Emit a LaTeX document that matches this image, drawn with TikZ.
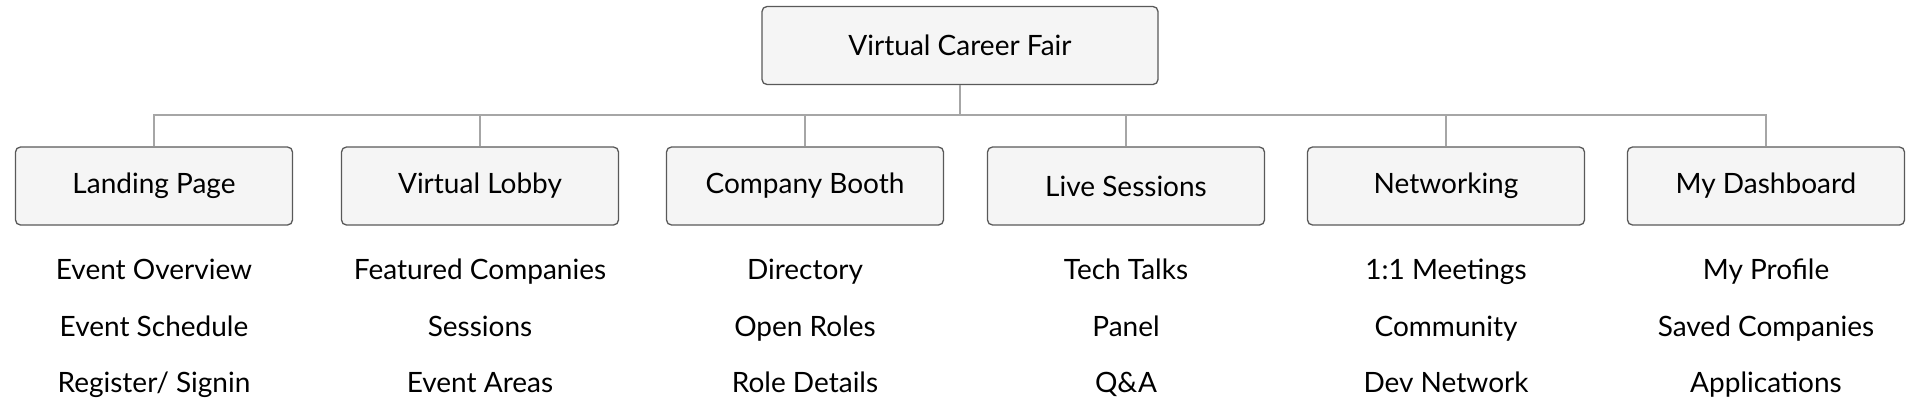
\documentclass[tikz,border=0pt]{standalone}
\usepackage{fontspec}
\setmainfont{Lato}
\begin{document}
\begin{tikzpicture}[x=1pt,y=-1pt,
  box/.style={draw=black!65,line width=1.3pt,fill=black!4,rounded corners=5pt,minimum width=277pt,minimum height=78pt,inner sep=0pt,font=\fontsize{28}{30}\selectfont},
  item/.style={font=\fontsize{28}{30}\selectfont,inner sep=0pt,anchor=base},
  conn/.style={draw=black!35,line width=1.5pt}]
\useasboundingbox (0,0) rectangle (1920,400);
\node[box,minimum width=396pt] (root) at (960,45.5) {Virtual Career Fair};
\coordinate (bus) at (960,115);
\foreach \n/\x/\t/\a/\b/\c in {
 a/154/Landing Page/Event Overview/Event Schedule/Register\slash{} Signin,
 b/480/Virtual Lobby/Featured Companies/Sessions/Event Areas,
 c/805/Company Booth/Directory/Open Roles/Role Details,
 d/1126/Live Sessions/Tech Talks/Panel/Q\&A,
 e/1446/Networking/1:1 Meetings/Community/Dev Network,
 f/1766/My Dashboard/My Profile/Saved Companies/Applications}{
 \node[box] (\n) at (\x,186) {\t};
 \node[item] (\n1) at (\x,279) {\a};
 \node[item] (\n2) at (\x,336) {\b};
 \node[item] (\n3) at (\x,392) {\c};
 \draw[conn] (root.south) |- (\x,115) -- (\n.north);
}
\end{tikzpicture}
\end{document}
